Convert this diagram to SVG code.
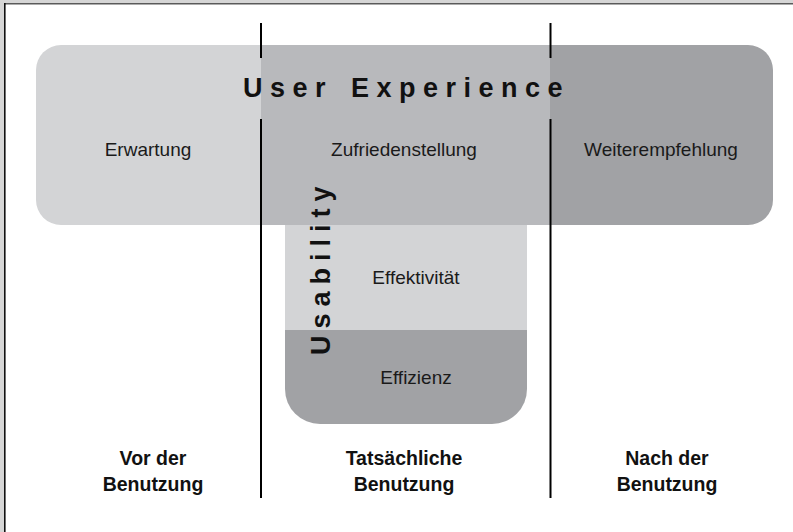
<svg xmlns="http://www.w3.org/2000/svg" width="793" height="532" viewBox="0 0 793 532">
  <style>
    .lbl { font-family: "Liberation Sans", Arial, sans-serif; font-size: 19px; fill: #1a1a1a; text-anchor: middle; }
    .bold { font-family: "Liberation Sans", Arial, sans-serif; font-size: 19.5px; font-weight: bold; fill: #111; text-anchor: middle; }
    .head { font-family: "Liberation Sans", Arial, sans-serif; font-size: 27px; font-weight: bold; fill: #111; }
    .sep { stroke: #000; stroke-width: 2; fill: none; }
    .c1 { fill: #d3d4d6; }
    .c2 { fill: #b8b9bc; }
    .c3 { fill: #a1a2a5; }
  </style>
  <defs>
    <clipPath id="uxClip">
      <rect x="36" y="45" width="737" height="180" rx="25" ry="25"/>
    </clipPath>
    <clipPath id="usClip">
      <path d="M285,225 H527 V389 A35,35 0 0 1 492,424 H320 A35,35 0 0 1 285,389 Z"/>
    </clipPath>
  </defs>

  <!-- frame -->
  <rect x="0" y="0" width="793" height="532" fill="#d6d6d6"/>
  <rect x="5" y="4" width="788" height="528" fill="#ffffff"/>
  <line x1="4" y1="3.8" x2="793" y2="3.8" stroke="#5a5a5a" stroke-width="1.6"/>
  <line x1="4.8" y1="3" x2="4.8" y2="532" stroke="#111" stroke-width="1.6"/>

  <g id="user-experience">
    <g clip-path="url(#uxClip)">
      <rect class="c1" x="36" y="45" width="225" height="180"/>
      <rect class="c2" x="261" y="45" width="289" height="180"/>
      <rect class="c3" x="550" y="45" width="223" height="180"/>
    </g>
    <text class="head" x="243" y="96.5" letter-spacing="7.5" word-spacing="3">User Experience</text>
    <text class="lbl" x="148" y="156">Erwartung</text>
    <text class="lbl" x="404" y="156">Zufriedenstellung</text>
    <text class="lbl" x="661" y="156">Weiterempfehlung</text>
  </g>

  <g id="usability">
    <g clip-path="url(#usClip)">
      <rect class="c1" x="285" y="225" width="242" height="105"/>
      <rect class="c3" x="285" y="330" width="242" height="95"/>
    </g>
    <text class="lbl" x="416" y="284">Effektivität</text>
    <text class="lbl" x="416" y="384">Effizienz</text>
    <text class="head" transform="translate(330,355) rotate(-90)" x="0" y="0" letter-spacing="7">Usability</text>
  </g>

  <g id="connectors">
    <line class="sep" x1="261" y1="23" x2="261" y2="58"/>
    <line class="sep" x1="261" y1="119" x2="261" y2="498"/>
    <line class="sep" x1="550.5" y1="23" x2="550.5" y2="58"/>
    <line class="sep" x1="550.5" y1="119" x2="550.5" y2="498"/>
  </g>

  <g id="phase-before">
    <text class="bold" x="153" y="465">Vor der</text>
    <text class="bold" x="153" y="491">Benutzung</text>
  </g>
  <g id="phase-during">
    <text class="bold" x="404" y="465">Tatsächliche</text>
    <text class="bold" x="404" y="491">Benutzung</text>
  </g>
  <g id="phase-after">
    <text class="bold" x="667" y="465">Nach der</text>
    <text class="bold" x="667" y="491">Benutzung</text>
  </g>
</svg>
